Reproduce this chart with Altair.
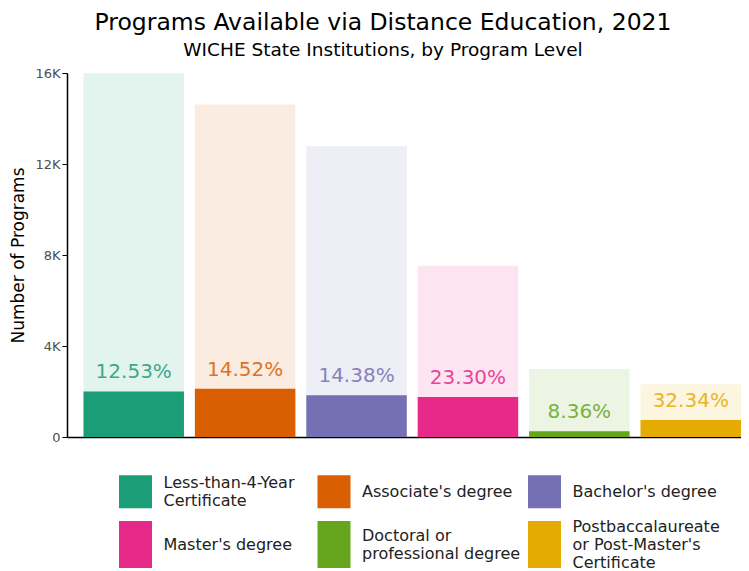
import altair as alt
import pandas as pd

categories = [
    "Less-than-4-Year Certificate",
    "Associate's degree",
    "Bachelor's degree",
    "Master's degree",
    "Doctoral or professional degree",
    "Postbaccalaureate or Post-Master's Certificate",
]
total_programs = [15985, 14610, 12790, 7530, 2990, 2320]
distance_programs = [2003, 2121, 1839, 1754, 250, 750]
pct_labels = ["12.53%", "14.52%", "14.38%", "23.30%", "8.36%", "32.34%"]
colors = ["#1b9e77", "#d95f02", "#7570b3", "#e7298a", "#66a61e", "#e6ab02"]
legend_lines = {
    "Less-than-4-Year Certificate": ["Less-than-4-Year", "Certificate"],
    "Doctoral or professional degree": ["Doctoral or", "professional degree"],
    "Postbaccalaureate or Post-Master's Certificate": ["Postbaccalaureate", "or Post-Master's", "Certificate"],
}

df = pd.DataFrame({
    "category": categories,
    "total": total_programs,
    "distance": distance_programs,
    "pct": pct_labels,
})

# legend grid: 3 columns, 2 rows, derived from category order
sym_rows, txt_rows = [], []
for i, c in enumerate(categories):
    lines = legend_lines.get(c, [c])
    sym_rows.append({"category": c, "col": i % 3, "row": i // 3})
    for j, ln in enumerate(lines):
        txt_rows.append({"category": c, "col": i % 3, "row": i // 3,
                         "line": j - (len(lines) - 1) / 2, "text": ln})
leg_sym = pd.DataFrame(sym_rows)
leg_txt = pd.DataFrame(txt_rows)

FONT = "DejaVu Sans"
ROW_PX = 52.8
LINE_PX = 18

color_scale = alt.Scale(domain=categories, range=colors)
x_enc = alt.X("category:N", sort=categories,
              axis=alt.Axis(labels=False, ticks=False, title=None, domainColor="black", domainWidth=1.5),
              scale=alt.Scale(paddingInner=0.098, paddingOuter=0.074, align=1))
y_scale = alt.Scale(domain=[0, 16000], nice=False)

light = alt.Chart(df).mark_bar(opacity=0.12).encode(
    x=x_enc,
    y=alt.Y("total:Q", scale=y_scale, axis=alt.Axis(
        title="Number of Programs", values=[0, 4000, 8000, 12000, 16000],
        labelExpr="datum.value == 0 ? '0' : datum.value/1000 + 'K'",
        grid=False, domainColor="black", domainWidth=1.5, tickColor="black", tickSize=5,
        labelFontSize=13, labelColor="#4d4d4d", labelFont=FONT, labelPadding=2,
        titleFontSize=17, titleFont=FONT, titleFontWeight="normal", titleColor="black", titlePadding=7,
    )),
    color=alt.Color("category:N", scale=color_scale, legend=None),
)

dark = alt.Chart(df).mark_bar().encode(
    x=x_enc,
    y=alt.Y("distance:Q", scale=y_scale),
    color=alt.Color("category:N", scale=color_scale, legend=None),
)

text = alt.Chart(df).mark_text(baseline="alphabetic", dy=-13, fontSize=20, font=FONT, opacity=0.85).encode(
    x=x_enc,
    y=alt.Y("distance:Q", scale=y_scale),
    text="pct:N",
    color=alt.Color("category:N", scale=color_scale, legend=None),
)

main = alt.layer(light, dark, text)

# legend drawn below the plot area
lx = alt.X("col:Q", scale=alt.Scale(domain=[0, 1, 2], range=[68.5, 267, 477.5]), axis=None)
ly_scale = alt.Scale(domain=[0, 1], range=[418.7, 418.7 + ROW_PX])
square_path = "M-1,-1H1V1H-1Z"
tall_path = "M-1,-1.42H1V1.42H-1Z"

leg_symbols = alt.Chart(leg_sym).mark_point(filled=True, opacity=1, size=1089, strokeWidth=0).encode(
    x=lx, y=alt.Y("row:Q", scale=ly_scale, axis=None),
    shape=alt.Shape("row:N", scale=alt.Scale(domain=[0, 1], range=[square_path, tall_path]), legend=None),
    color=alt.Color("category:N", scale=color_scale, legend=None),
)

leg_labels = alt.Chart(leg_txt).transform_calculate(
    ypos=f"datum.row + datum.line * {LINE_PX} / {ROW_PX}"
).mark_text(
    align="left", baseline="middle", dx=28, fontSize=16, font=FONT, color="#222222"
).encode(
    x=lx, y=alt.Y("ypos:Q", scale=ly_scale, axis=None),
    text="text:N",
)

legend_layer = alt.layer(leg_symbols, leg_labels)

chart = alt.layer(main, legend_layer).resolve_scale(x="independent", y="independent").properties(
    width=674, height=364,
    autosize=alt.AutoSizeParams(type="none"),
    padding={"left": 59, "top": 65, "right": 0, "bottom": 134},
    title=alt.TitleParams(
        "Programs Available via Distance Education, 2021",
        subtitle="WICHE State Institutions, by Program Level",
        fontSize=23.5, font=FONT, fontWeight="normal", color="black",
        subtitleFontSize=18.5, subtitleFont=FONT, subtitleColor="black",
        anchor="middle", frame="group", dx=-21, offset=8, subtitlePadding=6,
    ),
).configure_view(stroke=None)

chart.save("out.html", embed_options={"renderer": "svg", "actions": False})
